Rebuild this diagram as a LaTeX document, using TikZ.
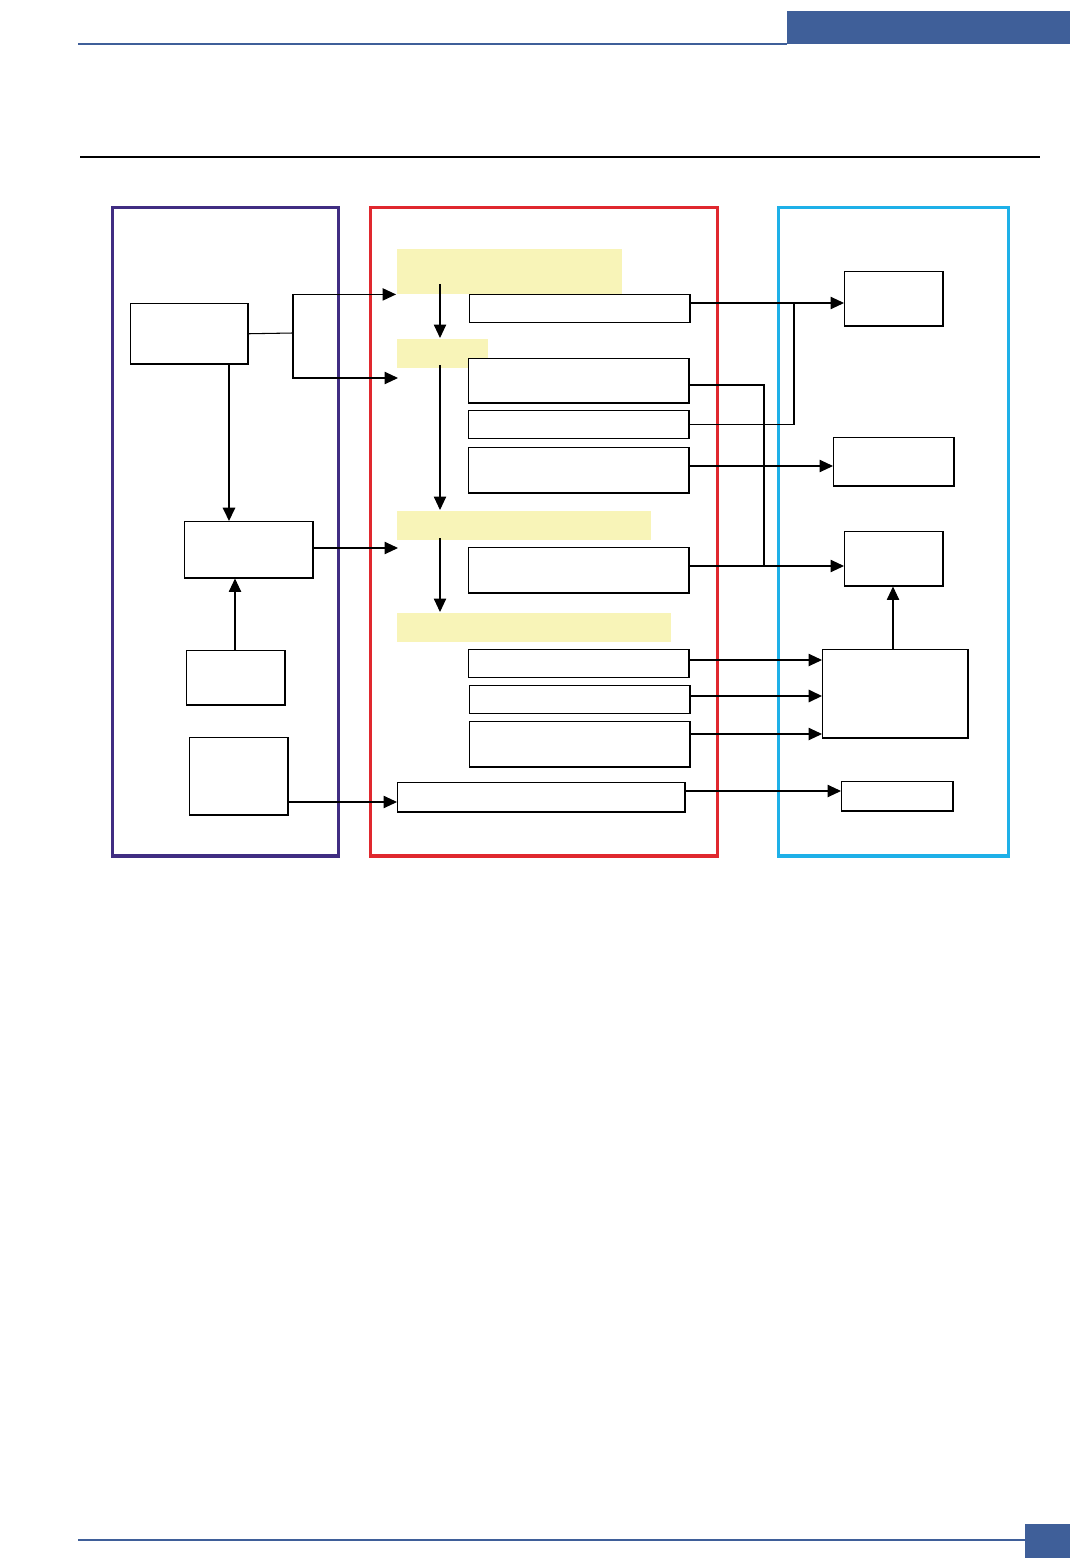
\documentclass[tikz,border=0pt]{standalone}
\usetikzlibrary{arrows.meta}
\definecolor{pagebar}{RGB}{63,95,153}
\definecolor{leftpanel}{RGB}{64,45,130}
\definecolor{midpanel}{RGB}{224,40,46}
\definecolor{rightpanel}{RGB}{30,176,232}
\definecolor{bandyellow}{RGB}{248,244,184}
\begin{document}
\begin{tikzpicture}[x=0.01cm,y=-0.01cm,
	sz/.style 2 args={minimum width=#1cm,minimum height=#2cm,anchor=north west},
	box/.style={draw,line width=0.42pt,inner sep=0pt,fill=white},
	band/.style={fill=bandyellow,inner sep=0pt},
	panel/.style={draw=#1,line width=0.9pt,inner sep=0pt},
	link/.style={line width=0.3pt},
	arr/.style={link,-{Triangle[length=3.8pt,width=3.5pt]}}]
	\useasboundingbox (0,0) rectangle (1070,1558);
	% page frame
	\fill[pagebar] (787,11) rectangle (1070,44);
	\draw[pagebar,line width=0.35pt] (78,44) -- (787,44);
	\draw[line width=0.65pt] (80,157) -- (1040,157);
	\draw[pagebar,line width=0.35pt] (78,1540) -- (1025,1540);
	\fill[pagebar] (1025,1524) rectangle (1070,1558);
	% panels
	\node[panel=leftpanel,sz={2.26}{6.48}] (pl) at (111,206) {};
	\node[panel=midpanel,sz={3.47}{6.48}] (pm) at (369,206) {};
	\node[panel=rightpanel,sz={2.30}{6.48}] (pr) at (777,206) {};
	% left blocks
	\node[box,sz={1.17}{0.60}] (a) at (130,303) {};
	\node[box,sz={1.28}{0.56}] (b) at (184,521) {};
	\node[box,sz={0.98}{0.54}] (c) at (186,650) {};
	\node[box,sz={0.98}{0.77}] (d) at (189,737) {};
	% yellow bands
	\node[band,sz={2.25}{0.45}] (y1) at (396,248) {};
	\node[band,sz={0.91}{0.29}] (y2) at (396,338) {};
	\node[band,sz={2.54}{0.29}] (y3) at (396,510) {};
	\node[band,sz={2.74}{0.29}] (y4) at (396,612) {};
	% middle blocks
	\node[box,sz={2.20}{0.28}] (m1) at (469,294) {};
	\node[box,sz={2.20}{0.44}] (m2) at (468,358) {};
	\node[box,sz={2.20}{0.28}] (m3) at (468,410) {};
	\node[box,sz={2.20}{0.45}] (m4) at (468,447) {};
	\node[box,sz={2.20}{0.45}] (m5) at (468,547) {};
	\node[box,sz={2.20}{0.28}] (m6) at (468,649) {};
	\node[box,sz={2.20}{0.28}] (m7) at (469,685) {};
	\node[box,sz={2.20}{0.45}] (m8) at (469,721) {};
	\node[box,sz={2.87}{0.29}] (m9) at (397,782) {};
	% right blocks
	\node[box,sz={0.98}{0.54}] (r1) at (844,271) {};
	\node[box,sz={1.20}{0.48}] (r2) at (833,437) {};
	\node[box,sz={0.98}{0.54}] (r3) at (844,531) {};
	\node[box,sz={1.45}{0.88}] (r4) at (822,649) {};
	\node[box,sz={1.11}{0.29}] (r5) at (841,781) {};
	% free ends
	\coordinate (ja) at (293,333);
	\coordinate (in2) at (398,378);
	\coordinate (in3) at (398,548);
	\coordinate (s1) at (440,284);
	\coordinate (s2) at (440,365);
	\coordinate (s3) at (440,538);
	\coordinate (h1) at (794,303);
	\coordinate (h2) at (764,566);
	% connectors
	\draw[link] (a.east) -- (ja);
	\draw[arr] (ja) |- (y1.south west);
	\draw[arr] (ja) |- (in2);
	\draw[arr,line width=0.6pt] (a.south -| 229,0) -- (b.north -| 229,0);
	\draw[arr] (b.east |- in3) -- (in3);
	\draw[arr] (c.north -| 235,0) -- (b.south -| 235,0);
	\draw[arr] (d.east |- 0,802) -- (m9.west |- 0,802);
	\draw[arr] (s1) -- (s1 |- y2.north);
	\draw[arr] (s2) -- (s2 |- y3.north);
	\draw[arr] (s3) -- (s3 |- y4.north);
	\draw[arr] (m1.east |- h1) -- (r1.west |- h1);
	\draw[link] (m3.east) -| (h1);
	\draw[link] (m2.east |- 0,385) -| (h2);
	\draw[arr] (m5.east |- h2) -- (r3.west |- h2);
	\draw[arr] (m4.east |- 0,466) -- (r2.west |- 0,466);
	\draw[arr] (m6.east |- 0,660) -- (r4.west |- 0,660);
	\draw[arr,line width=0.6pt] (m7.east |- 0,696) -- (r4.west |- 0,696);
	\draw[arr] (m8.east |- 0,734) -- (r4.west |- 0,734);
	\draw[arr] (m9.east |- 0,791) -- (r5.west |- 0,791);
	\draw[arr] (r4.north -| 893,0) -- (r3.south -| 893,0);
\end{tikzpicture}
\end{document}
